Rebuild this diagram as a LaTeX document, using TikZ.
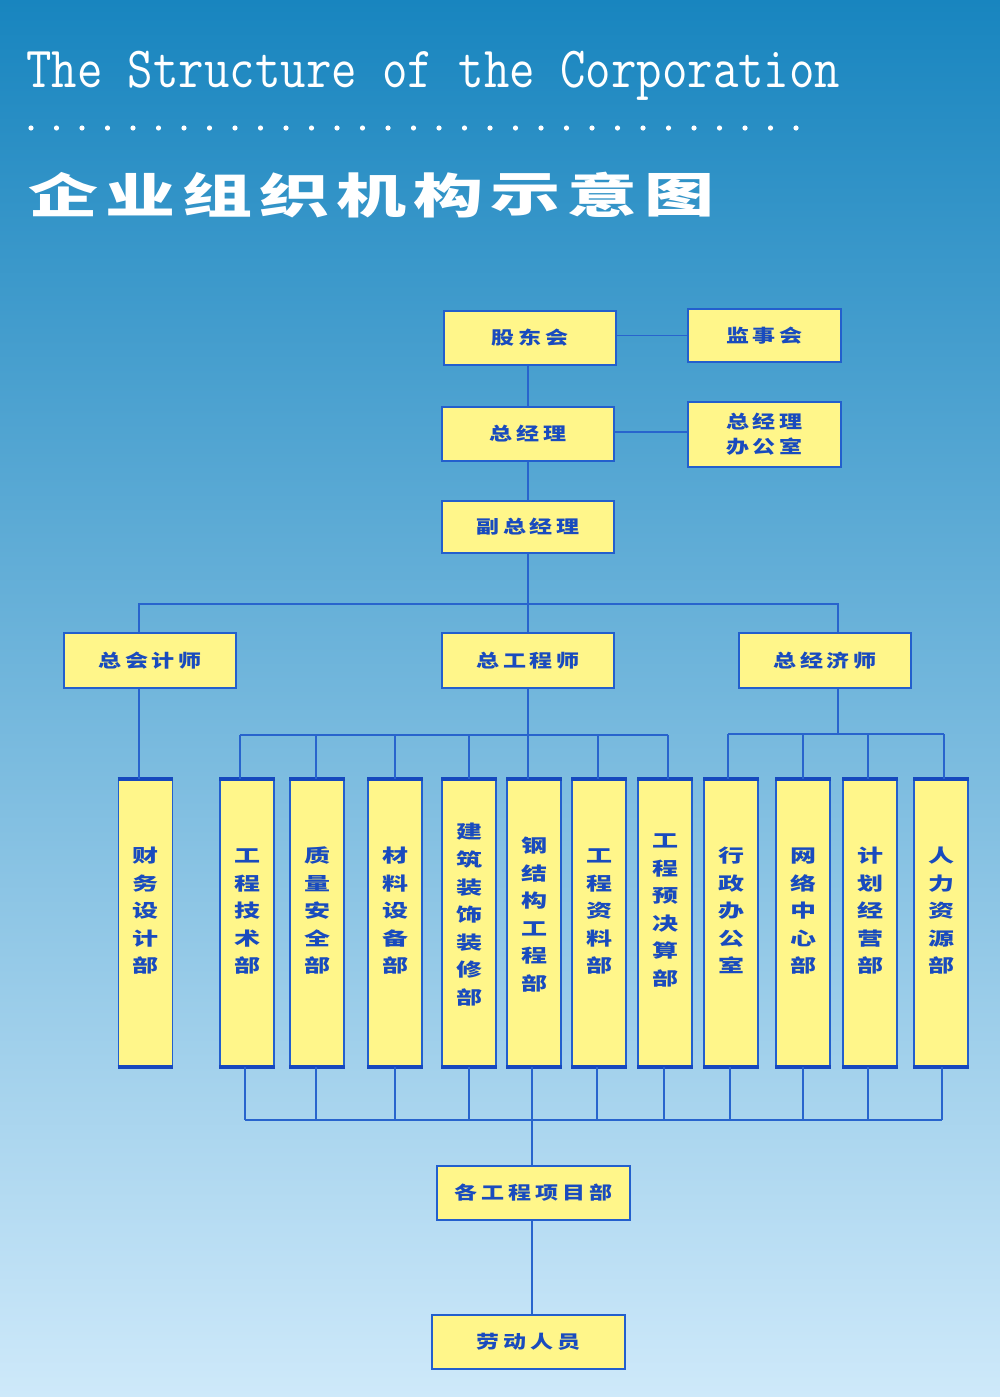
\documentclass[tikz,border=0pt]{standalone}
\usepackage{fontspec}
\usepackage{graphicx}
\newfontfamily\cjk{Noto Sans CJK SC}
\newfontfamily\cjkls[LetterSpace=17]{Noto Sans CJK SC}
\definecolor{bx}{RGB}{255,246,138}
\definecolor{ln}{RGB}{35,95,205}
\definecolor{ln2}{RGB}{22,72,190}
\definecolor{cl}{RGB}{40,100,205}
\definecolor{tx}{RGB}{25,75,190}
\definecolor{bgtop}{RGB}{24,133,191}
\definecolor{bgmid}{RGB}{108,182,223}
\definecolor{bgbot}{RGB}{206,233,250}
\newcommand\hlab[1]{\scalebox{1}[0.78]{#1}}
\newcommand\vlab[1]{\scalebox{1}[0.7]{\begin{tabular}{@{}c@{}}#1\end{tabular}}}
\begin{document}
\begin{tikzpicture}[x=1pt,y=-1pt,
  hb/.style={draw=ln, line width=1.8pt, fill=bx, inner sep=0pt, text=tx, align=center,
    font=\cjkls\bfseries\fontsize{23}{25}\selectfont},
  vb/.style={draw=ln, line width=1.8pt, fill=bx, minimum width=54pt, minimum height=286pt, inner sep=0pt},
  vt/.style={text=tx, inner sep=0pt, font=\cjk\bfseries\fontsize{26}{39.3}\selectfont},
  cn/.style={draw=cl, line width=1.6pt},
  thick edge/.style={draw=ln2, line width=3.6pt}]
\useasboundingbox (0,0) rectangle (1000,1397);
\shade[top color=bgtop, middle color=bgmid, bottom color=bgbot] (0,0) rectangle (1000,1397);

% titles
\node[anchor=base west, inner sep=0pt, text=white, font=\ttfamily\fontsize{49.4}{49.4}\selectfont] (en) at (26,88)
  {\scalebox{1}[1.18]{The Structure of the Corporation}};
\foreach \i in {0,...,30} \fill[white] (31+25.5*\i,128) circle (2.6pt);
\foreach \c [count=\i from 0] in {企,业,组,织,机,构,示,意,图}
  \node[inner sep=0pt, text=white, font=\cjk\bfseries\fontsize{70}{70}\selectfont] (t\i) at (63+77*\i,195) {\scalebox{1}[0.68]{\c}};

% top boxes
\node[hb, minimum width=172pt, minimum height=54pt] (gd) at (530,338) {\hlab{股东会}};
\node[hb, minimum width=153pt, minimum height=53pt] (jsh) at (764.5,335.5) {\hlab{监事会}};
\node[hb, minimum width=172pt, minimum height=54pt] (zjl) at (528,434) {\hlab{总经理}};
\node[hb, minimum width=153pt, minimum height=65pt] (off) at (764.5,434.5) {\hlab{总经理}\\\hlab{办公室}};
\node[hb, minimum width=172pt, minimum height=52pt] (fz) at (528,527) {\hlab{副总经理}};
\node[hb, minimum width=172pt, minimum height=55pt] (zkj) at (150,660.5) {\hlab{总会计师}};
\node[hb, minimum width=172pt, minimum height=55pt] (zgc) at (528,660.5) {\hlab{总工程师}};
\node[hb, minimum width=172pt, minimum height=55pt] (zjj) at (825,660.5) {\hlab{总经济师}};
\node[hb, minimum width=193pt, minimum height=54pt] (xm) at (533.5,1193) {\hlab{各工程项目部}};
\node[hb, minimum width=193pt, minimum height=54pt] (ld) at (528.5,1342) {\hlab{劳动人员}};

% vertical boxes
\foreach \n/\x/\ty/\t in {
  v1/145.5/912/{财\\务\\设\\计\\部},
  v2/247/912/{工\\程\\技\\术\\部},
  v3/317/912/{质\\量\\安\\全\\部},
  v4/395/912/{材\\料\\设\\备\\部},
  v5/469/916/{建\\筑\\装\\饰\\装\\修\\部},
  v6/534/916/{钢\\结\\构\\工\\程\\部},
  v7/599/912/{工\\程\\资\\料\\部},
  v8/665/911/{工\\程\\预\\决\\算\\部},
  v9/731/912/{行\\政\\办\\公\\室},
  v10/803/912/{网\\络\\中\\心\\部},
  v11/870/912/{计\\划\\经\\营\\部},
  v12/941/912/{人\\力\\资\\源\\部}}{
  \node[vb] (\n) at (\x,923) {};
  \draw[thick edge] (\n.north west) -- (\n.north east);
  \draw[thick edge] (\n.south west) -- (\n.south east);
  \node[vt] (\n t) at (\x,\ty) {\vlab{\t}};
}

% connectors top
\draw[cn] (zjl.north |- gd.south) -- (zjl.north);
\draw[cn] (gd.east |- jsh.west) -- (jsh.west);
\draw[cn] (zjl.east |- 0,432) -- (off.west |- 0,432);
\draw[cn] (zjl.south) -- (fz.north);
\draw[cn] (fz.south) -- (zgc.north);
\coordinate (b1l) at (139,604);
\coordinate (b1r) at (838,604);
\draw[cn] (b1l |- zkj.north) -- (b1l) -- (b1r) -- (b1r |- zjj.north);
\draw[cn] (b1l |- zkj.south) -- (b1l |- v1.north);

% chief engineer bus
\coordinate (b2) at (528,735);
\draw[cn] (zgc.south) -- (b2);
\foreach \n/\x in {v2/240,v3/316,v4/395,v5/469,v6/528,v7/598,v8/668}{
  \coordinate (u\n) at (\x,735);
  \draw[cn] (u\n) -- (u\n |- \n.north);
}
\draw[cn] (uv2) -- (uv8);

% chief economist bus
\coordinate (b3) at (838,734);
\draw[cn] (b3 |- zjj.south) -- (b3);
\foreach \n/\x in {v9/728,v10/803,v11/868,v12/944}{
  \coordinate (u\n) at (\x,734);
  \draw[cn] (u\n) -- (u\n |- \n.north);
}
\draw[cn] (uv9) -- (uv12);

% bottom bus
\foreach \n/\x in {v2/245,v3/316,v4/395,v5/469,v6/532,v7/597,v8/664,v9/730,v10/803,v11/868,v12/942}{
  \coordinate (w\n) at (\x,1120);
  \draw[cn] (w\n |- \n.south) -- (w\n);
}
\draw[cn] (wv2) -- (wv12);
\draw[cn] (wv6) -- (wv6 |- xm.north);
\draw[cn] (wv6 |- xm.south) -- (wv6 |- ld.north);
\end{tikzpicture}
\end{document}
